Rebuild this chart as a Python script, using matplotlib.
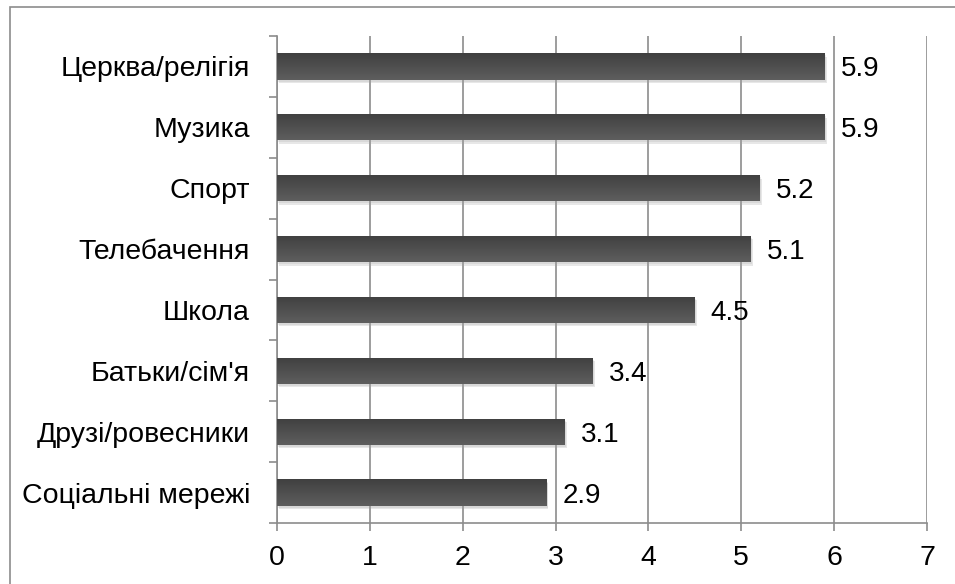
import numpy as np
import matplotlib
matplotlib.use("Agg")
import matplotlib.pyplot as plt
from matplotlib.patches import Rectangle
from matplotlib.colors import LinearSegmentedColormap
import matplotlib.patheffects as pe

plt.rcParams['font.family'] = ['Liberation Sans', 'DejaVu Sans']

categories = ["Церква/релігія", "Музика", "Спорт", "Телебачення", "Школа",
              "Батьки/сім'я", "Друзі/ровесники", "Соціальні мережі"]
values = [5.9, 5.9, 5.2, 5.1, 4.5, 3.4, 3.1, 2.9]
value_labels = ["5.9", "5.9", "5.2", "5.1", "4.5", "3.4", "3.1", "2.9"]
xticks = [0, 1, 2, 3, 4, 5, 6, 7]

W, H = 955, 584
fig = plt.figure(figsize=(W / 100, H / 100), dpi=100)
ax = fig.add_axes([277 / W, 1 - 523 / H, (927 - 277) / W, (523 - 36) / H])

# outer frame of the chart area
fig.patches.append(Rectangle((10 / W, -0.05), 1.2, 1 - 7 / H + 0.05,
                             transform=fig.transFigure, fill=False,
                             edgecolor="#8c8c8c", linewidth=1.2, zorder=0))

grid_c = "#8c8c8c"
n = len(categories)
ypos = np.arange(n)[::-1]
bar_h = 0.43

bars = ax.barh(ypos, values, height=bar_h, color="#505050", zorder=3,
               path_effects=[pe.SimplePatchShadow(offset=(1.5, -2.5), shadow_rgbFace="#a0a0a0", alpha=0.25),
                             pe.SimplePatchShadow(offset=(1.0, -1.5), shadow_rgbFace="#a0a0a0", alpha=0.2),
                             pe.Normal()])

# vertical shading of each bar
grad = np.linspace(0, 1, 64).reshape(-1, 1)
cmap = LinearSegmentedColormap.from_list("barshade", ["#5e5e5e", "#404040"])
for b in bars:
    x0, y0 = b.get_x(), b.get_y()
    w, h = b.get_width(), b.get_height()
    im = ax.imshow(grad, cmap=cmap, aspect="auto", extent=(x0, x0 + w, y0 + h, y0),
                   origin="upper", zorder=4, interpolation="bilinear")
    im.set_clip_path(b)

for y, v, lab in zip(ypos, values, value_labels):
    ax.annotate(lab, (v, y), xytext=(11.5, 0), textcoords="offset points",
                va="center_baseline", ha="left", fontsize=20, color="black", zorder=5)

ax.set_xlim(0, 7)
ax.set_ylim(-0.5, n - 0.5)
ax.set_xticks(xticks)
ax.set_xticklabels([str(t) for t in xticks], fontsize=20.5)
ax.xaxis.grid(True, color=grid_c, linewidth=1.2, zorder=1)
ax.set_axisbelow(True)

ax.set_yticks(np.arange(-0.5, n, 1.0))
ax.set_yticklabels([])
ax.set_yticks(ypos, minor=True)
ax.set_yticklabels(categories, minor=True, fontsize=20.5)
ax.tick_params(axis="y", which="minor", length=0, pad=19.5)
ax.tick_params(axis="y", which="major", length=5.8, width=1.2, color=grid_c, direction="out")
ax.tick_params(axis="x", length=5.8, width=1.2, color=grid_c, direction="out", pad=10)

for s in ["top", "right"]:
    ax.spines[s].set_visible(False)
for s in ["left", "bottom"]:
    ax.spines[s].set_color(grid_c)
    ax.spines[s].set_linewidth(1.2)

fig.savefig("out.png", dpi=100)
